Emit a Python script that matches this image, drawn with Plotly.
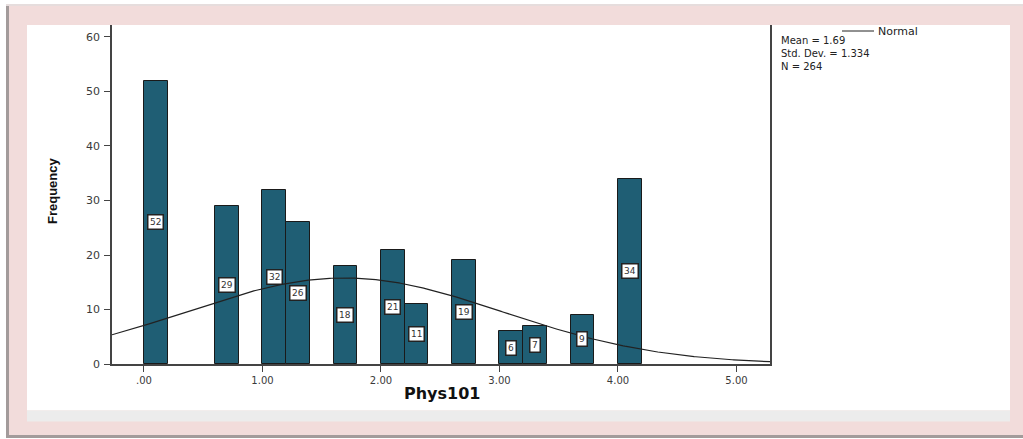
import numpy as np
import plotly.graph_objects as go

# Histogram of Phys101 grades (bins of width 0.2)
bin_start = [0.0, 0.6, 1.0, 1.2, 1.6, 2.0, 2.2, 2.6, 3.0, 3.2, 3.6, 4.0]
counts = [52, 29, 32, 26, 18, 21, 11, 19, 6, 7, 9, 34]
bin_width = 0.2

# Summary statistics shown beside the chart
mean_val = 1.69
std_dev = 1.334
n_total = 264

x_ticks = [0, 1, 2, 3, 4, 5]
x_tick_labels = [".00", "1.00", "2.00", "3.00", "4.00", "5.00"]
y_ticks = [0, 10, 20, 30, 40, 50, 60]

W, H = 1023, 439
X_RANGE = [-0.27, 5.283]
Y_RANGE = [0, 62.2]


def px(x):
    return x / W


def py(y):
    return 1 - y / H


centers = [s + bin_width / 2 for s in bin_start]

fig = go.Figure()

fig.add_trace(go.Bar(
    x=centers, y=counts, width=[bin_width] * len(counts),
    marker=dict(color="#1f5e74", line=dict(color="#1a1a1a", width=1)),
    hoverinfo="x+y", showlegend=False,
))

# Normal curve scaled to the histogram counts
xs = np.linspace(X_RANGE[0], X_RANGE[1], 400)
pdf = np.exp(-0.5 * ((xs - mean_val) / std_dev) ** 2) / (std_dev * np.sqrt(2 * np.pi))
fig.add_trace(go.Scatter(
    x=xs, y=n_total * bin_width * pdf, mode="lines",
    line=dict(color="#222222", width=1.2), showlegend=False, hoverinfo="skip",
))

# Count labels in the middle of each bar
annotations = []
for c, v in zip(centers, counts):
    annotations.append(dict(
        x=c, y=v / 2, xref="x", yref="y", text=str(v), showarrow=False,
        xanchor="center", yanchor="middle",
        font=dict(family="DejaVu Sans", size=9, color="#333333"),
        bgcolor="white", bordercolor="#222222", borderwidth=1.5, borderpad=1.5,
    ))

# Axis titles
annotations.append(dict(
    x=px(52), y=py(191), xref="paper", yref="paper", text="<b>Frequency</b>",
    textangle=-90, showarrow=False, xanchor="center", yanchor="middle",
    font=dict(family="Liberation Sans", size=13, color="#111111"),
))
annotations.append(dict(
    x=px(442), y=py(393), xref="paper", yref="paper", text="<b>Phys101</b>",
    showarrow=False, xanchor="center", yanchor="middle",
    font=dict(family="DejaVu Sans", size=16, color="#111111"),
))

# Statistics block
annotations.append(dict(x=px(876), y=py(31), xref="paper", yref="paper",
                        text="Normal", showarrow=False, xanchor="left",
                        yanchor="middle",
                        font=dict(family="DejaVu Sans", size=11, color="#222222")))
stats_text = "<br>".join([f"Mean = {mean_val:.2f}",
                          f"Std. Dev. = {std_dev:.3f}",
                          f"N = {n_total}"])
annotations.append(dict(x=px(779), y=py(33), xref="paper", yref="paper",
                        text=stats_text, showarrow=False, xanchor="left",
                        yanchor="top", align="left",
                        font=dict(family="DejaVu Sans", size=10, color="#222222")))

shapes = [
    # frame shadow, pink border, white panel and grey strip
    dict(type="rect", xref="paper", yref="paper", x0=px(6), x1=px(1023),
         y0=py(438), y1=py(6), fillcolor="#a39b9b", line=dict(width=0), layer="below"),
    dict(type="rect", xref="paper", yref="paper", x0=px(6), x1=px(1023),
         y0=py(6), y1=py(4), fillcolor="#e6dddd", line=dict(width=0), layer="below"),
    dict(type="rect", xref="paper", yref="paper", x0=px(9), x1=px(1023),
         y0=py(435), y1=py(6), fillcolor="#f2dcdb", line=dict(width=0), layer="below"),
    dict(type="rect", xref="paper", yref="paper", x0=px(27), x1=px(1010),
         y0=py(410.5), y1=py(25), fillcolor="white", line=dict(width=0), layer="below"),
    dict(type="rect", xref="paper", yref="paper", x0=px(27), x1=px(1010),
         y0=py(421.5), y1=py(410.5), fillcolor="#ececec", line=dict(width=0), layer="below"),
    # legend line for the normal curve
    dict(type="line", xref="paper", yref="paper", x0=px(842), x1=px(874),
         y0=py(31), y1=py(31), line=dict(color="#222222", width=1)),
]

fig.update_layout(
    width=W, height=H,
    margin=dict(l=0, r=0, t=0, b=0, pad=0, autoexpand=False),
    paper_bgcolor="white", plot_bgcolor="rgba(0,0,0,0)",
    bargap=0, showlegend=False,
    annotations=annotations, shapes=shapes,
    xaxis=dict(
        domain=[px(112), px(770)], range=X_RANGE, automargin=False,
        tickmode="array", tickvals=x_ticks, ticktext=x_tick_labels,
        ticks="outside", ticklen=6, tickcolor="#444444",
        showline=True, linecolor="#444444", linewidth=1.5,
        showgrid=False, zeroline=False,
        tickfont=dict(family="DejaVu Sans", size=10, color="#3a3a3a"),
    ),
    yaxis=dict(
        domain=[py(364), py(25)], range=Y_RANGE, automargin=False,
        tickmode="array", tickvals=y_ticks,
        ticks="outside", ticklen=6, tickcolor="#444444",
        showline=True, mirror=True, linecolor="#444444", linewidth=1.5,
        showgrid=False, zeroline=False, ticklabelstandoff=2,
        tickfont=dict(family="DejaVu Sans", size=11, color="#3a3a3a"),
    ),
)

fig.write_html("out.html")
